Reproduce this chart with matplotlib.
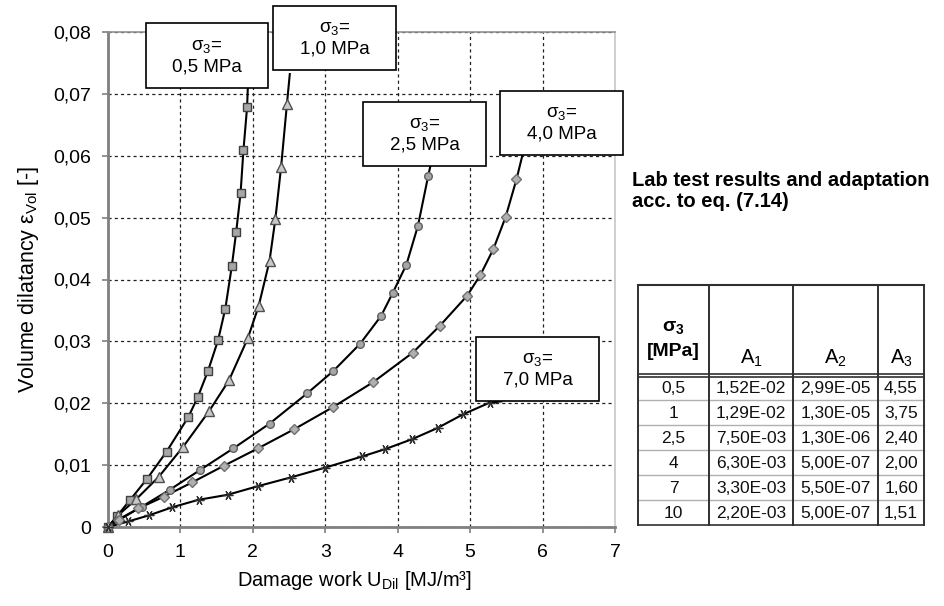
import matplotlib.pyplot as plt
from matplotlib.patches import Rectangle
from matplotlib.lines import Line2D
from matplotlib.ticker import FuncFormatter, MultipleLocator

plt.rcParams['font.family'] = ['Liberation Sans', 'DejaVu Sans']
plt.rcParams['mathtext.fontset'] = 'custom'
plt.rcParams['mathtext.rm'] = 'Liberation Sans'
plt.rcParams['mathtext.it'] = 'Liberation Sans:italic'
plt.rcParams['mathtext.bf'] = 'Liberation Sans:bold'

# measured points (damage work U_Dil in MJ/m3, volume dilatancy)
u_05 = [0, 0.12, 0.30, 0.54, 0.81, 1.11, 1.24, 1.38, 1.52, 1.62, 1.71, 1.77, 1.83, 1.87, 1.92]
e_05 = [0, 0.0017, 0.0043, 0.0078, 0.0122, 0.0178, 0.0210, 0.0252, 0.0302, 0.0353, 0.0422, 0.0477, 0.0539, 0.0609, 0.0678]

u_10 = [0, 0.14, 0.39, 0.70, 1.04, 1.40, 1.67, 1.93, 2.08, 2.23, 2.31, 2.39, 2.47]
e_10 = [0, 0.0019, 0.0045, 0.0081, 0.0130, 0.0188, 0.0237, 0.0305, 0.0357, 0.0430, 0.0497, 0.0582, 0.0683]

u_25 = [0, 0.14, 0.47, 0.85, 1.27, 1.73, 2.23, 2.75, 3.11, 3.48, 3.77, 3.93, 4.12, 4.28, 4.42]
e_25 = [0, 0.0012, 0.0033, 0.0060, 0.0092, 0.0127, 0.0167, 0.0216, 0.0252, 0.0296, 0.0341, 0.0378, 0.0424, 0.0487, 0.0567]

u_40 = [0, 0.15, 0.42, 0.77, 1.16, 1.60, 2.07, 2.57, 3.11, 3.66, 4.21, 4.58, 4.96, 5.14, 5.32, 5.49, 5.64]
e_40 = [0, 0.0011, 0.0030, 0.0049, 0.0072, 0.0099, 0.0127, 0.0158, 0.0194, 0.0234, 0.0282, 0.0325, 0.0374, 0.0407, 0.0449, 0.0501, 0.0562]

u_70 = [0, 0.28, 0.57, 0.89, 1.25, 1.65, 2.07, 2.52, 3.00, 3.51, 3.83, 4.20, 4.55, 4.90, 5.27]
e_70 = [0, 0.0009, 0.0019, 0.0032, 0.0044, 0.0052, 0.0066, 0.0080, 0.0096, 0.0114, 0.0126, 0.0142, 0.0160, 0.0182, 0.0201]

# where the fitted curves end (under the labels)
fit_end_u = [1.93, 2.51, 4.46, 5.72, 5.43]
fit_end_e = [0.0708, 0.0732, 0.0588, 0.0600, 0.0203]

labels = ['0,5', '1,0', '2,5', '4,0', '7,0']

# table with fit parameters
tab_sigma = ['0,5', '1', '2,5', '4', '7', '10']
tab_a1 = ['1,52E-02', '1,29E-02', '7,50E-03', '6,30E-03', '3,30E-03', '2,20E-03']
tab_a2 = ['2,99E-05', '1,30E-05', '1,30E-06', '5,00E-07', '5,50E-07', '5,00E-07']
tab_a3 = ['4,55', '3,75', '2,40', '2,00', '1,60', '1,51']

W, H = 944, 606


def fx(x):
    return x / W


def fy(y):
    return 1 - y / H


fig = plt.figure(figsize=(W / 100, H / 100), dpi=100)
ax = fig.add_axes([fx(108), fy(527), (615 - 108) / W, (527 - 32) / H])

series = [
    (u_05, e_05, dict(marker='s', ms=6, mfc='#a6a6a6', mec='#404040')),
    (u_10, e_10, dict(marker='^', ms=7, mfc='#c8c8c8', mec='#505050')),
    (u_25, e_25, dict(marker='o', ms=5.5, mfc='#a6a6a6', mec='#606060')),
    (u_40, e_40, dict(marker='D', ms=5, mfc='#b0b0b0', mec='#707070')),
    (u_70, e_70, dict(marker=(6, 2, 90), ms=7, mfc='none', mec='#303030', mew=0.9)),
]

for i, (u, e, mk) in enumerate(series):
    ax.plot(list(u) + [fit_end_u[i]], list(e) + [fit_end_e[i]],
            color='black', lw=1.5, zorder=3, clip_on=False)
    ax.plot(u, e, linestyle='none', zorder=4, clip_on=False, **mk)

ax.set_xlim(0, 7)
ax.set_ylim(0, 0.08)
ax.xaxis.set_major_locator(MultipleLocator(1))
ax.yaxis.set_major_locator(MultipleLocator(0.01))
ax.yaxis.set_major_formatter(FuncFormatter(lambda v, p: '0' if abs(v) < 1e-9 else f'{v:.2f}'.replace('.', ',')))
ax.grid(True, color='#202020', linestyle=(0, (2.5, 2.5)), lw=0.9)
ax.set_axisbelow(True)

for side in ['left', 'bottom']:
    ax.spines[side].set_color('#808080')
    ax.spines[side].set_linewidth(2)
ax.spines['top'].set_color('#909090')
ax.spines['right'].set_color('#c8c8c8')
ax.spines['top'].set_linewidth(1.2)
ax.spines['right'].set_linewidth(1.2)
ax.tick_params(axis='both', labelsize=14, color='#808080', length=4, width=1.2, pad=8)

ax.set_xlabel('Damage work U$_{\\mathregular{Dil}}$ [MJ/m³]', fontsize=14.5, labelpad=6)
ax.xaxis.set_label_coords(0.485, -0.085)
ax.set_ylabel('Volume dilatancy ε$_{\\mathregular{Vol}}$ [-]', fontsize=15.5, labelpad=9)

# label boxes (left, top, right, bottom in pixels)
boxes = [(146, 23, 268, 88), (273, 6, 396, 70), (363, 102, 486, 166),
         (500, 91, 623, 155), (476, 337, 599, 401)]
for (l, t, r, b), lab in zip(boxes, labels):
    fig.add_artist(Rectangle((fx(l), fy(b)), (r - l) / W, (b - t) / H, transform=fig.transFigure,
                             facecolor='white', edgecolor='black', lw=1.2, zorder=10))
    fig.text(fx((l + r) / 2), fy((t + b) / 2 + 1), 'σ$_3$=\n' + lab + ' MPa', ha='center', va='center',
             fontsize=13.5, linespacing=1.25, zorder=11)

fig.text(fx(632), fy(191), 'Lab test results and adaptation\nacc. to eq. (7.14)',
         fontsize=14.5, fontweight='bold', ha='left', va='center', linespacing=1.1)

# table
col_x = [638, 709, 793, 878, 924]
top, head_bot = 285, 375
row_h = 25
bottom = head_bot + row_h * len(tab_sigma)


def hline(y, x0, x1, color, lw):
    fig.add_artist(Line2D([fx(x0), fx(x1)], [fy(y), fy(y)], transform=fig.transFigure, color=color, lw=lw))


def vline(x, y0, y1, color, lw):
    fig.add_artist(Line2D([fx(x), fx(x)], [fy(y0), fy(y1)], transform=fig.transFigure, color=color, lw=lw))


hline(top, col_x[0], col_x[-1], '#303030', 1.5)
hline(head_bot - 1.5, col_x[0], col_x[-1], '#303030', 1.2)
hline(head_bot + 1.5, col_x[0], col_x[-1], '#303030', 1.2)
hline(bottom, col_x[0], col_x[-1], '#303030', 1.2)
for k in range(1, len(tab_sigma)):
    hline(head_bot + row_h * k, col_x[0], col_x[-1], '#b0b0b0', 1.0)
for x in col_x:
    vline(x, top, bottom, '#303030', 1.4)

fig.text(fx((col_x[0] + col_x[1]) / 2), fy(327), 'σ$_\\mathbf{3}$', fontsize=14, fontweight='bold',
         ha='center', va='center')
fig.text(fx((col_x[0] + col_x[1]) / 2), fy(351), '[MPa]', fontsize=14, fontweight='bold',
         ha='center', va='center')
for j, name in enumerate(['A$_1$', 'A$_2$', 'A$_3$']):
    fig.text(fx((col_x[j + 1] + col_x[j + 2]) / 2), fy(358), name, fontsize=14.5,
             ha='center', va='center')

cols = [tab_sigma, tab_a1, tab_a2, tab_a3]
for j, col in enumerate(cols):
    for k, val in enumerate(col):
        fig.text(fx((col_x[j] + col_x[j + 1]) / 2), fy(head_bot + row_h * k + row_h / 2 + 1), val,
                 fontsize=12.5, ha='center', va='center', color='#101010')

fig.savefig('out.png', dpi=100)
